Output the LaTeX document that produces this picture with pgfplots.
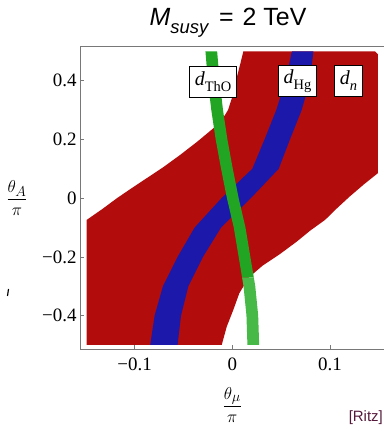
\documentclass[border=0pt]{standalone}
\usepackage{fontspec}
\setmainfont{Liberation Serif}
\newfontfamily\arialfont{Liberation Sans}
\usepackage{pgfplots}
\pgfplotsset{compat=1.18}
\definecolor{rred}{RGB}{178,12,12}
\definecolor{bblue}{RGB}{28,24,170}
\definecolor{ggreen}{RGB}{34,165,34}
\definecolor{lgreen}{RGB}{70,185,70}
\definecolor{framegray}{RGB}{120,120,120}
\definecolor{ritz}{RGB}{85,25,60}
\newcommand{\dlab}[1]{\fontsize{20}{22}\selectfont\itshape d\upshape\raisebox{-0.3em}{\fontsize{14.5}{16}\selectfont #1}}
\begin{document}
\begin{tikzpicture}
\begin{axis}[
 scale only axis, width=304bp, height=302.6bp,
 xmin=-0.1559, xmax=0.1553, ymin=-0.515, ymax=0.516,
 axis x line*=box, axis y line*=left,
 axis line style={framegray, line width=0.8pt},
 xtick={-0.1,0,0.1}, xticklabels={−0.1,0,0.1},
 ytick={-0.4,-0.2,0,0.2,0.4}, yticklabels={−0.4,−0.2,0,0.2,0.4},
 xtick pos=left, ytick pos=left,
 tick align=inside, major tick length=4bp,
 tick style={framegray, line width=0.6pt},
 tick label style={font=\fontsize{19}{21}\selectfont, inner sep=0pt},
 xticklabel style={anchor=north, yshift=-8.7bp},
 yticklabel style={anchor=east, xshift=-3.3bp},
]
% red allowed region (d_n)
\addplot[draw=none, fill=rred] coordinates {
(-0.149,-0.5) (-0.149,-0.074) (-0.133,-0.037) (-0.118,0) (-0.103,0.034) (-0.0876,0.068)
(-0.070,0.107) (-0.0535,0.147) (-0.036,0.192) (-0.0194,0.238) (-0.010,0.27) (-0.0044,0.300)
(0.0005,0.35) (0.0045,0.41) (0.008,0.455) (0.0113,0.5) (0.146,0.5) (0.149,0.49)
(0.149,0.085) (0.134,0.045) (0.120,0.005) (0.107,-0.035) (0.095,-0.074) (0.080,-0.11)
(0.066,-0.148) (0.049,-0.19) (0.031,-0.23) (0.017,-0.27) (0.0072,-0.324) (0.001,-0.381)
(-0.0057,-0.438) (-0.0108,-0.5) (-0.149,-0.5)};
% blue band (d_Hg)
\addplot[draw=none, fill=bblue] coordinates {
(-0.084,-0.5) (-0.0795,-0.4) (-0.071,-0.3) (-0.056,-0.2) (-0.0385,-0.1) (-0.011,0)
(0.0205,0.1) (0.033,0.2) (0.045,0.3) (0.0545,0.4) (0.061,0.5)
(0.083,0.5) (0.0795,0.4) (0.071,0.3) (0.059,0.2) (0.0475,0.1) (0.019,0)
(-0.0115,-0.1) (-0.030,-0.2) (-0.045,-0.3) (-0.0525,-0.4) (-0.056,-0.5) (-0.084,-0.5)};
% green band (d_ThO)
\addplot[draw=none, fill=ggreen] coordinates {
(-0.0275,0.5) (-0.025,0.4) (-0.0215,0.3) (-0.017,0.2) (-0.0115,0.1) (-0.0055,0)
(0.0015,-0.1) (0.0065,-0.2) (0.010,-0.27)
(0.022,-0.27) (0.0185,-0.2) (0.0135,-0.1) (0.0065,0) (0.0005,0.1) (-0.005,0.2)
(-0.0095,0.3) (-0.013,0.4) (-0.0155,0.5) (-0.0275,0.5)};
\addplot[draw=none, fill=lgreen] coordinates {
(0.010,-0.27) (0.0115,-0.3) (0.0145,-0.4) (0.0155,-0.5) (0.0275,-0.5) (0.0265,-0.4)
(0.0235,-0.3) (0.022,-0.27) (0.010,-0.27)};
\node[draw=black, fill=white, line width=0.6pt, minimum height=31bp, inner xsep=5.4bp, inner ysep=0pt] at (axis cs:-0.0197,0.398) {\dlab{ThO}};
\node[draw=black, fill=white, line width=1.4pt, minimum height=31bp, inner xsep=5.4bp, inner ysep=0pt] at (axis cs:0.0667,0.399) {\dlab{Hg}};
\node[draw=black, fill=white, line width=0.6pt, minimum height=31bp, inner xsep=5.4bp, inner ysep=0pt] at (axis cs:0.119,0.399) {\dlab{\itshape n}};
\end{axis}
% title
\node at (148bp,326.5bp) {\arialfont\fontsize{25}{28}\selectfont\itshape M\upshape\raisebox{-0.3em}{\fontsize{18.5}{20}\selectfont\itshape susy}\hspace{4bp} = \hspace{2bp}2 TeV};
% axis labels
\node at (-63bp,151.3bp) {\fontsize{19}{21}\selectfont$\displaystyle\frac{\theta_A}{\pi}$};
\node at (152.3bp,-55.7bp) {\fontsize{19}{21}\selectfont$\displaystyle\frac{\theta_\mu}{\pi}$};
\draw[line width=1.2pt] (-71.5bp,60.3bp) -- (-72.5bp,53.3bp);
\node[anchor=east, inner sep=0pt, text=ritz] at (303bp,-68.7bp) {\arialfont\fontsize{15}{17}\selectfont [Ritz]};
\pgfresetboundingbox
\path[use as bounding box] (-80bp,-77.7bp) rectangle (304bp,349.3bp);
\end{tikzpicture}
\end{document}
